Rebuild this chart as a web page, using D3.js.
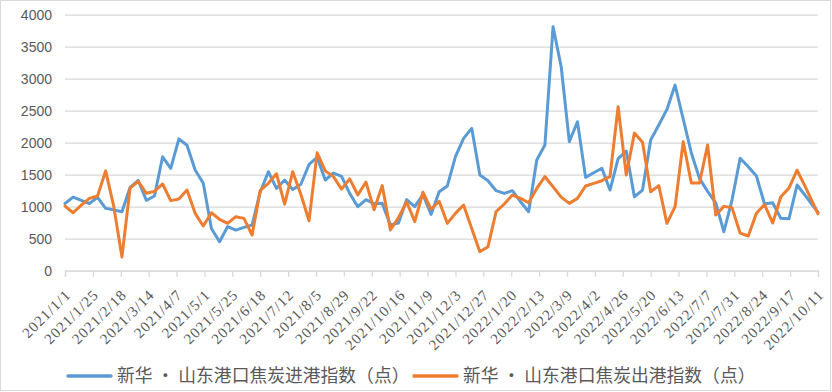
<!DOCTYPE html>
<html><head><meta charset="utf-8">
<script src="https://cdn.jsdelivr.net/npm/d3@7"></script>
<style>body{margin:0;background:#fff}</style>
</head><body>
<svg id="chart" width="832" height="392"></svg>
<script>
const dates = [
"2021/01/01","2021/01/08","2021/01/15","2021/01/22","2021/01/29","2021/02/05","2021/02/12","2021/02/19","2021/02/26","2021/03/05",
"2021/03/12","2021/03/19","2021/03/26","2021/04/02","2021/04/09","2021/04/16","2021/04/23","2021/04/30","2021/05/07","2021/05/14",
"2021/05/21","2021/05/28","2021/06/04","2021/06/11","2021/06/18","2021/06/25","2021/07/02","2021/07/09","2021/07/16","2021/07/23",
"2021/07/30","2021/08/06","2021/08/13","2021/08/20","2021/08/27","2021/09/03","2021/09/10","2021/09/17","2021/09/24","2021/10/01",
"2021/10/08","2021/10/15","2021/10/22","2021/10/29","2021/11/05","2021/11/12","2021/11/19","2021/11/26","2021/12/03","2021/12/10",
"2021/12/17","2021/12/24","2021/12/31","2022/01/07","2022/01/14","2022/01/21","2022/01/28","2022/02/04","2022/02/11","2022/02/18",
"2022/02/25","2022/03/04","2022/03/11","2022/03/18","2022/03/25","2022/04/01","2022/04/08","2022/04/15","2022/04/22","2022/04/29",
"2022/05/06","2022/05/13","2022/05/20","2022/05/27","2022/06/03","2022/06/10","2022/06/17","2022/06/24","2022/07/01","2022/07/08",
"2022/07/15","2022/07/22","2022/07/29","2022/08/05","2022/08/12","2022/08/19","2022/08/26","2022/09/02","2022/09/09","2022/09/16",
"2022/09/23","2022/09/30","2022/10/11"];

// 新华·山东港口焦炭进港指数（点）
const inbound = [
1050,1150,1100,1050,1145,975,950,920,1300,1410,
1100,1167,1780,1600,2060,1960,1573,1365,660,453,
690,635,677,714,1230,1547,1287,1417,1270,1350,
1660,1770,1417,1525,1475,1208,1000,1110,1047,1052,
714,745,1110,1000,1190,880,1234,1323,1781,2068,
2224,1495,1406,1250,1208,1250,1078,922,1729,1964,
3812,3187,2016,2328,1458,1531,1600,1260,1750,1870,
1156,1260,2042,2276,2520,2900,2370,1840,1443,1240,
1060,609,1104,1756,1625,1480,1042,1062,818,810,
1339,1175,910];

// 新华·山东港口焦炭出港指数（点）
const outbound = [
1010,905,1025,1130,1167,1560,1000,215,1290,1395,
1210,1240,1355,1095,1120,1260,896,698,906,802,
740,844,818,557,1255,1365,1515,1040,1547,1190,
780,1842,1560,1470,1275,1435,1183,1385,953,1330,
636,830,1078,766,1226,960,1085,740,896,1026,
661,297,375,922,1042,1182,1130,1062,1286,1469,
1312,1150,1052,1130,1323,1365,1406,1469,2562,1495,
2150,2008,1234,1330,740,1000,2016,1370,1370,1964,
870,1005,985,586,542,898,1034,745,1156,1290,
1570,1313,890];

const tickLabels = ["2021/1/1","2021/1/25","2021/2/18","2021/3/14","2021/4/7","2021/5/1","2021/5/25","2021/6/18","2021/7/12","2021/8/5","2021/8/29","2021/9/22","2021/10/16","2021/11/9","2021/12/3","2021/12/27","2022/1/20","2022/2/13","2022/3/9","2022/4/2","2022/4/26","2022/5/20","2022/6/13","2022/7/7","2022/7/31","2022/8/24","2022/9/17","2022/10/11"];
const yTicks = [0,500,1000,1500,2000,2500,3000,3500,4000];
const seriesNames = ["新华 • 山东港口焦炭进港指数（点）","新华 • 山东港口焦炭出港指数（点）"];
const colors = ["#5B9BD5","#ED7D31"];

const parse = d3.utcParse("%Y/%m/%d");
const svg = d3.select("#chart");
const plotLeft = 65, plotRight = 818, plotTop = 14.7, plotBottom = 270.7;

svg.append("rect").attr("x",0.5).attr("y",0.5).attr("width",830).attr("height",390)
  .attr("fill","#fff").attr("stroke","#d9d9d9").attr("stroke-width",1);

const x = d3.scaleUtc().domain([parse(tickLabels[0]), parse(tickLabels[tickLabels.length-1])]).range([plotLeft, plotRight]);
const y = d3.scaleLinear().domain([0,4000]).range([plotBottom, plotTop]);

// gridlines + y labels
const yAxis = svg.append("g").attr("transform",`translate(${plotLeft},0)`)
  .call(d3.axisLeft(y).tickValues(yTicks).tickSize(-(plotRight-plotLeft)).tickPadding(13).tickFormat(d3.format("d")));
yAxis.select(".domain").remove();
yAxis.selectAll(".tick line").attr("stroke","#d9d9d9").attr("stroke-width",1.3);
yAxis.selectAll(".tick text").attr("fill","#595959")
  .style("font-family","'Liberation Sans Narrow','Arial Narrow','Liberation Sans',sans-serif").style("font-size","14px");

// x axis
const tickDates = tickLabels.map(parse);
const xAxis = svg.append("g").attr("transform",`translate(0,${plotBottom})`)
  .call(d3.axisBottom(x).tickValues(tickDates).tickSize(6).tickFormat(""));
xAxis.select(".domain").attr("stroke","#d9d9d9").attr("stroke-width",1.3);
xAxis.selectAll(".tick line").attr("stroke","#d9d9d9").attr("stroke-width",1.3);

svg.append("g").selectAll("text").data(tickLabels).join("text")
  .attr("transform", d => `translate(${x(parse(d))+3},${292}) rotate(-45)`)
  .attr("text-anchor","end").attr("dy","0.35em")
  .attr("fill","#595959")
  .style("font-family","'Liberation Serif','Times New Roman',serif")
  .style("font-size","15px").style("letter-spacing","1px")
  .text(d => d);

// lines
const series = [inbound, outbound];
const line = d3.line().x((d,i) => x(parse(dates[i]))).y(d => y(d));
series.forEach((s,k) => {
  svg.append("path").datum(s).attr("d", line)
    .attr("fill","none").attr("stroke",colors[k]).attr("stroke-width",3)
    .attr("stroke-linejoin","round").attr("stroke-linecap","round");
});

// legend
const legendX = [68, 414];
seriesNames.forEach((name,k) => {
  svg.append("line").attr("x1",legendX[k]).attr("x2",legendX[k]+43).attr("y1",376).attr("y2",376)
    .attr("stroke",colors[k]).attr("stroke-width",3.5).attr("stroke-linecap","round");
  svg.append("text").attr("x",legendX[k]+49).attr("y",382)
    .attr("fill","#595959")
    .style("font-family","'Noto Sans CJK SC',sans-serif").style("font-size","17.8px")
    .text(name);
});
</script>
</body></html>
